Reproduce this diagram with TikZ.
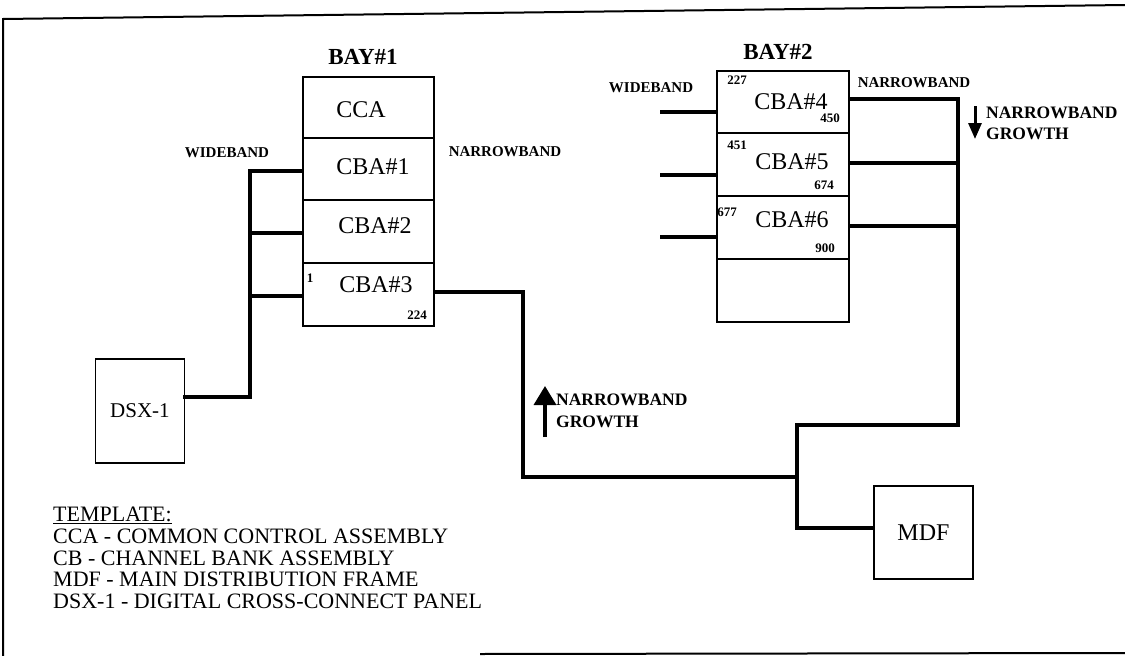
\documentclass[tikz,border=0pt]{standalone}
\usepackage{fontspec}
\setmainfont{Liberation Serif}
\usetikzlibrary{arrows.meta}
\begin{document}
\begin{tikzpicture}[x=1pt,y=-1pt,
  cell/.style={draw, line width=1.6pt, anchor=north west, inner sep=0pt, minimum width=132pt},
  boxnode/.style={draw, line width=1.6pt, inner sep=0pt},
  bus/.style={line width=4pt, line cap=rect, line join=miter},
  frame/.style={line width=2pt},
  big/.style={font=\fontsize{24}{26}\selectfont, inner sep=0pt},
  bay/.style={font=\bfseries\fontsize{23}{25}\selectfont, inner sep=0pt},
  band/.style={font=\bfseries\fontsize{15}{17}\selectfont, inner sep=0pt},
  growth/.style={font=\bfseries\fontsize{17.5}{19}\selectfont, inner sep=0pt, anchor=west},
  num/.style={font=\bfseries\fontsize{13}{14}\selectfont, inner sep=0pt},
  legend/.style={font=\fontsize{22}{21.7}\selectfont, inner sep=0pt, anchor=north west, align=left},
  growarrow/.style={line width=3.5pt, -{Triangle[width=22pt,length=19pt]}},
  growarrowsmall/.style={line width=3pt, -{Triangle[width=13pt,length=16pt]}}
]
\useasboundingbox (0,0) rectangle (1125,656);
% outer frame
\draw[frame] (1125,5) -- (3,19) -- (3,656);
\draw[frame] (480,654) -- (1125,653);

% BAY 1
\node[bay] (bay1) at (363,57) {BAY\#1};
\node[cell, minimum width=131pt, minimum height=61pt] (cca) at (302,76) {};
\node[cell, minimum width=131pt, minimum height=62pt] (cba1) at (302,137) {};
\node[cell, minimum width=131pt, minimum height=63pt] (cba2) at (302,199) {};
\node[cell, minimum width=131pt, minimum height=63pt] (cba3) at (302,262) {};
\node[big] (tcca) at (361,110) {CCA};
\node[big] (tcba1) at (373,167) {CBA\#1};
\node[big] (tcba2) at (375,226) {CBA\#2};
\node[big] (tcba3) at (376,285) {CBA\#3};
\node[num] (n1) at (310,278) {1};
\node[num] (n224) at (417,315) {224};
\node[band] (wb1) at (227,153) {WIDEBAND};
\node[band] (nb1) at (505,152) {NARROWBAND};

% BAY 2
\node[bay] (bay2) at (778,52) {BAY\#2};
\node[cell, minimum height=62pt] (cba4) at (716,70) {};
\node[cell, minimum height=63pt] (cba5) at (716,132) {};
\node[cell, minimum height=63pt] (cba6) at (716,195) {};
\node[cell, minimum height=63pt] (spare) at (716,258) {};
\node[big] (tcba4) at (791,102) {CBA\#4};
\node[big] (tcba5) at (792,162) {CBA\#5};
\node[big] (tcba6) at (792,220) {CBA\#6};
\node[num] (n227) at (737,80) {227};
\node[num] (n450) at (830,118) {450};
\node[num] (n451) at (737,145) {451};
\node[num] (n674) at (824,185) {674};
\node[num] (n677) at (727,212) {677};
\node[num] (n900) at (825,248) {900};
\node[band] (wb2) at (651,88) {WIDEBAND};
\node[band] (nb2) at (914,83) {NARROWBAND};

% DSX-1 and MDF
\node[boxnode, minimum width=89pt, minimum height=104pt, font=\fontsize{21}{23}\selectfont] (dsx) at (140,411) {DSX-1};
\node[boxnode, minimum width=99pt, minimum height=93pt, font=\fontsize{24}{26}\selectfont] (mdf) at (923.5,532.5) {MDF};

% wideband bus bay 1
\coordinate (wbtop) at (250,170);
\coordinate (wbbot) at (250,397);
\draw[bus] ([yshift=-2pt]cba1.west) -| (wbbot) -- (dsx.east |- wbbot);
\draw[bus] ([yshift=-2pt]cba2.west) -- ([yshift=-2pt]cba2.west -| wbtop);
\draw[bus] ([yshift=-2pt]cba3.west) -- ([yshift=-2pt]cba3.west -| wbtop);

% narrowband path bay 1 to MDF
\coordinate (j1) at (523,292);
\coordinate (j2) at (797,477);
\draw[bus] (cba3.east |- j1) -- (j1) |- (j2);

% narrowband bus bay 2 to MDF
\coordinate (rb) at (958,425);
\coordinate (mj) at (797,528);
\draw[bus] ([yshift=3pt]cba4.east) -| (rb) -| (mj) -- (mdf.west |- mj);
\draw[bus] ([yshift=1pt]cba5.east) -- ([yshift=1pt]cba5.east -| rb);
\draw[bus] ([yshift=1pt]cba6.east) -- ([yshift=1pt]cba6.east -| rb);

% wideband stubs bay 2
\coordinate (w4) at (662,112);
\coordinate (w5) at (662,175);
\coordinate (w6) at (662,237);
\draw[bus] (w4) -- (cba4.west |- w4);
\draw[bus] (w5) -- (cba5.west |- w5);
\draw[bus] (w6) -- (cba6.west |- w6);

% growth arrows
\coordinate (ga1) at (545,437);
\coordinate (gb1) at (545,386);
\draw[growarrow] (ga1) -- (gb1);
\node[growth] (g1a) at (556,400) {NARROWBAND};
\node[growth] (g1b) at (556,422) {GROWTH};
\coordinate (ga2) at (975,106);
\coordinate (gb2) at (975,139);
\draw[growarrowsmall] (ga2) -- (gb2);
\node[growth] (g2a) at (986,113) {NARROWBAND};
\node[growth] (g2b) at (986,134) {GROWTH};

% legend
\node[legend] (leg) at (53,507) {\underline{TEMPLATE:}\\
CCA - COMMON CONTROL ASSEMBLY\\
CB - CHANNEL BANK ASSEMBLY\\
MDF - MAIN DISTRIBUTION FRAME\\
DSX-1 - DIGITAL CROSS-CONNECT PANEL};
\end{tikzpicture}
\end{document}
